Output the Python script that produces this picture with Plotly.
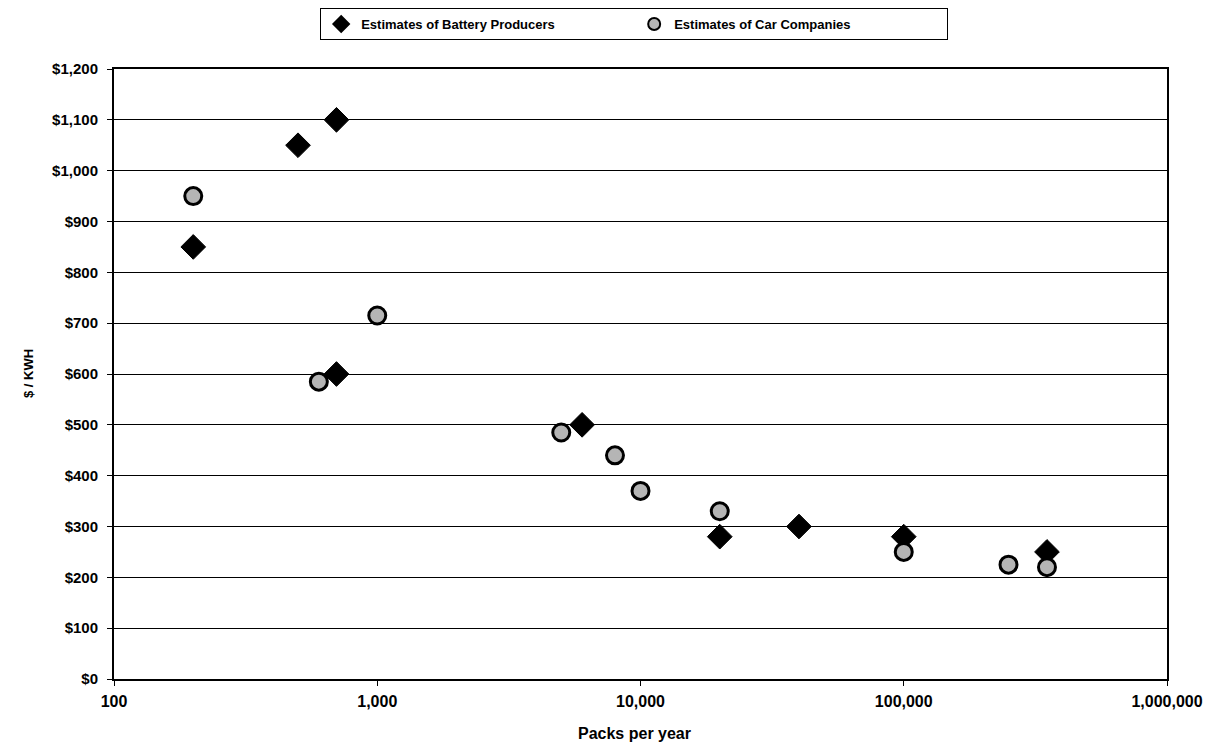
import plotly.graph_objects as go

battery_x = [200, 500, 700, 700, 6000, 20000, 40000, 100000, 350000]
battery_y = [850, 1050, 1100, 600, 500, 280, 300, 280, 250]
car_x = [200, 600, 1000, 5000, 8000, 10000, 20000, 100000, 250000, 350000]
car_y = [950, 585, 715, 485, 440, 370, 330, 250, 225, 220]

x_ticks = [100, 1000, 10000, 100000, 1000000]
x_tick_labels = ["100", "1,000", "10,000", "100,000", "1,000,000"]
y_ticks = list(range(0, 1300, 100))
y_tick_labels = ["$0", "$100", "$200", "$300", "$400", "$500", "$600",
                 "$700", "$800", "$900", "$1,000", "$1,100", "$1,200"]

font_family = "Liberation Sans, Arial, sans-serif"

fig = go.Figure()
fig.add_trace(go.Scatter(
    x=battery_x, y=battery_y, mode="markers",
    name="Estimates of Battery Producers",
    marker=dict(symbol="diamond", size=19, color="black",
                line=dict(color="black", width=1)),
))
fig.add_trace(go.Scatter(
    x=car_x, y=car_y, mode="markers",
    name="Estimates of Car Companies",
    marker=dict(symbol="circle", size=17, color="#b5b5b5",
                line=dict(color="black", width=3)),
))

fig.update_layout(
    width=1207, height=736,
    margin=dict(l=106, r=48, t=61, b=65, autoexpand=False),
    paper_bgcolor="white", plot_bgcolor="white",
    font=dict(family=font_family, size=12, color="black"),
    showlegend=True,
    legend=dict(
        orientation="h", x=0.494, xanchor="center",
        y=1.0, yref="container", yanchor="top",
        bordercolor="black", borderwidth=1,
        font=dict(family=font_family, size=13, color="black", weight="bold"),
        entrywidth=268, entrywidthmode="pixels",
        itemsizing="constant", itemwidth=30,
    ),
    xaxis=dict(
        type="log", range=[2, 6], automargin=False,
        tickvals=x_ticks, ticktext=x_tick_labels,
        showgrid=False, zeroline=False,
        showline=True, linecolor="black", linewidth=2, mirror=True,
        ticks="outside", ticklen=5, tickcolor="black",
        ticklabelstandoff=2,
        tickfont=dict(family=font_family, size=16, color="black", weight="bold"),
    ),
    yaxis=dict(
        range=[0, 1200], automargin=False,
        tickvals=y_ticks, ticktext=y_tick_labels,
        showgrid=True, gridcolor="black", gridwidth=1,
        zeroline=False,
        showline=True, linecolor="black", linewidth=2, mirror=True,
        ticks="outside", ticklen=5, tickcolor="black",
        ticklabelstandoff=6,
        tickfont=dict(family=font_family, size=15, color="black", weight="bold"),
    ),
    annotations=[
        dict(text="<b>Packs per year</b>", xref="paper", yref="paper",
             x=0.494, y=0, yshift=-54, xanchor="center", yanchor="middle",
             showarrow=False, font=dict(family=font_family, size=16, color="black")),
        dict(text="<b>$ / KWH</b>", xref="paper", yref="paper",
             x=0, xshift=-86, y=0.5, xanchor="center", yanchor="middle",
             textangle=-90, showarrow=False,
             font=dict(family=font_family, size=13, color="black")),
    ],
)

fig.write_html("out.html")
